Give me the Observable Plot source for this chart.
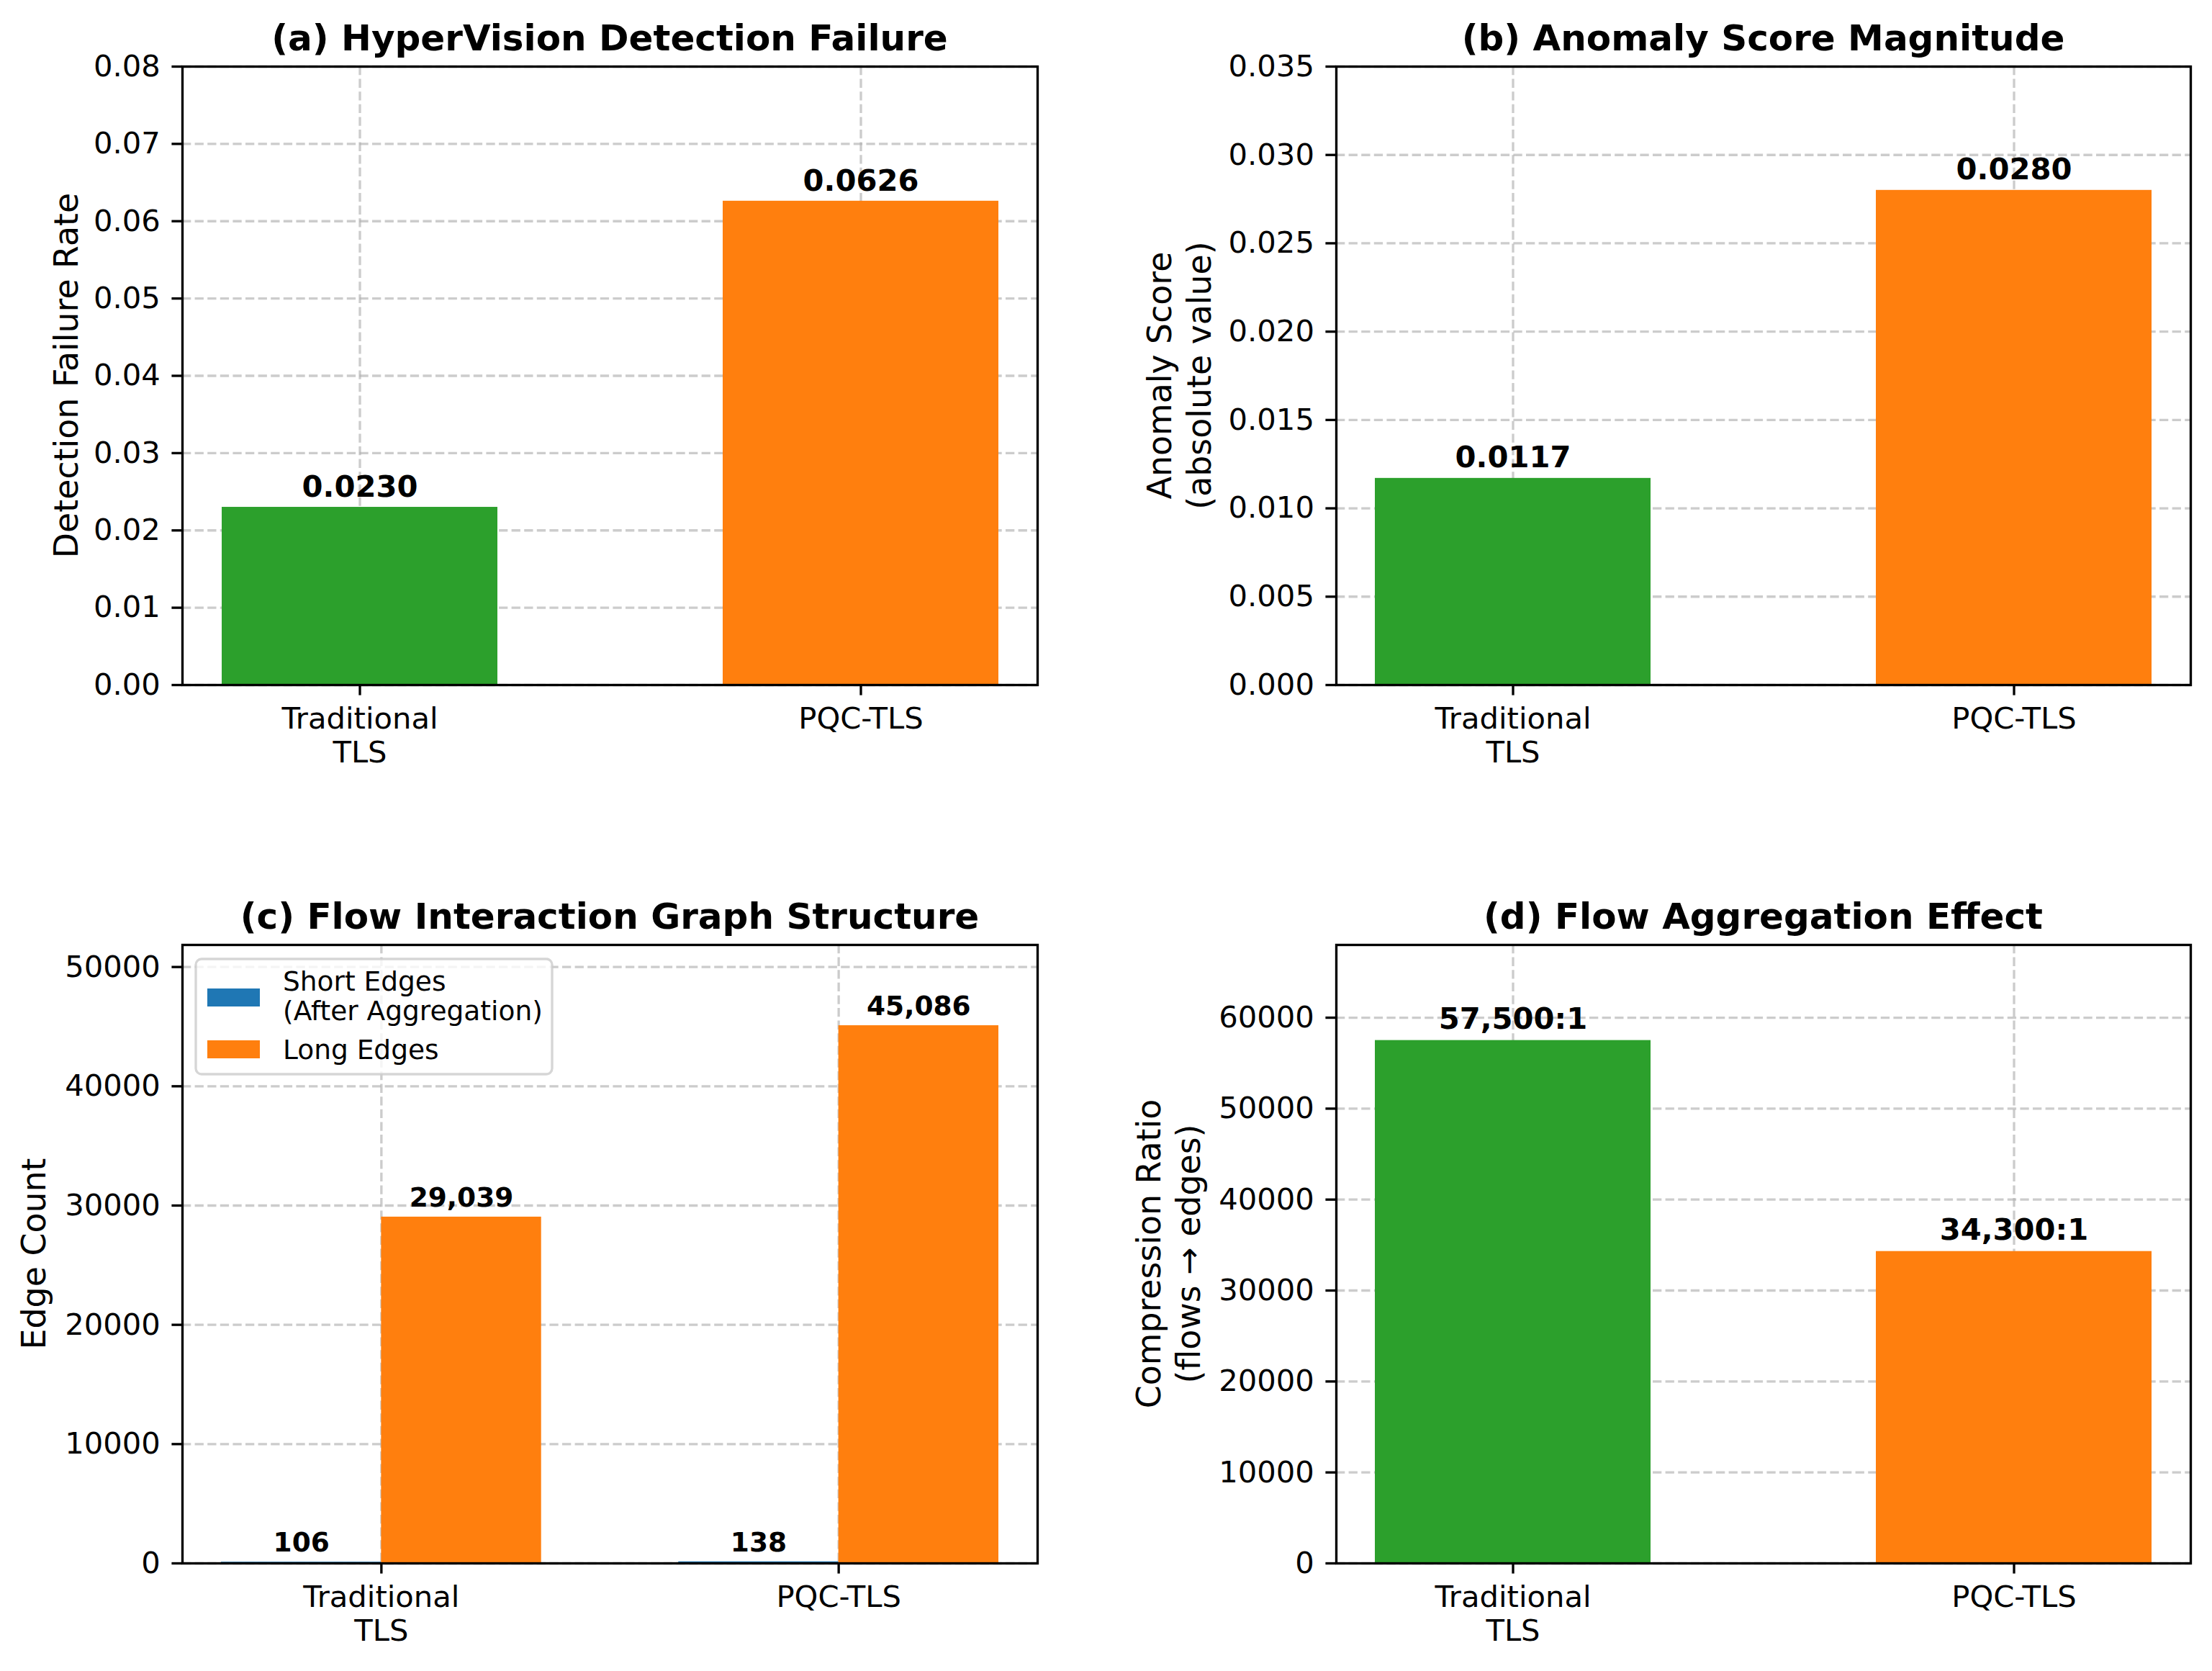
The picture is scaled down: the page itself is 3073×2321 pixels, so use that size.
<!DOCTYPE html>
<html>
<head>
<meta charset="utf-8">
<script src="https://cdn.jsdelivr.net/npm/d3@7"></script>
<script src="https://cdn.jsdelivr.net/npm/@observablehq/plot@0.6"></script>
<style>
  body { margin: 0; background: #fff; }
  #page { position: relative; width: 3073px; height: 2321px; background: #fff; overflow: hidden; font-family: "DejaVu Sans"; }
  .panel { position: absolute; }
  #overlay { position: absolute; left: 0; top: 0; pointer-events: none; }
</style>
</head>
<body>
<div id="page"></div>
<script>
// ---------------- data ----------------
const categories = ["Traditional\nTLS", "PQC-TLS"];
const barColors = ["#2ca02c", "#ff7f0e"];

const failureRate = [0.0230, 0.0626];
const anomalyScore = [0.0117, 0.0280];
const compressionRatio = [57500, 34300];

const edgeSeries = ["Short Edges\n(After Aggregation)", "Long Edges"];
const edgeColors = ["#1f77b4", "#ff7f0e"];
const shortEdges = [106, 138];
const longEdges = [29039, 45086];

const ticksA = [0, 0.01, 0.02, 0.03, 0.04, 0.05, 0.06, 0.07, 0.08];
const ticksB = [0, 0.005, 0.010, 0.015, 0.020, 0.025, 0.030, 0.035];
const ticksC = [0, 10000, 20000, 30000, 40000, 50000];
const ticksD = [0, 10000, 20000, 30000, 40000, 50000, 60000];

const titles = [
  "(a) HyperVision Detection Failure",
  "(b) Anomaly Score Magnitude",
  "(c) Flow Interaction Graph Structure",
  "(d) Flow Aggregation Effect"
];
const yLabels = [
  ["Detection Failure Rate"],
  ["Anomaly Score", "(absolute value)"],
  ["Edge Count"],
  ["Compression Ratio", "(flows \u2192 edges)"]
];

// ---------------- styling ----------------
const FONT = "DejaVu Sans";
const TICK_FS = 41.7, LABEL_FS = 45.8, TITLE_FS = 50, VALUE_FS = 41.7, VALUE_FS_C = 37.5, LEGEND_FS = 37.5;
const LW = 3.33, TICK_LEN = 14.6;
const gridStyle = { stroke: "#b0b0b0", strokeOpacity: 0.65, strokeWidth: LW, strokeDasharray: "12.3,5.3" };

const geo = [
  { left: 0,    top: 0,    width: 1500, height: 1100, mL: 253, mR: 59, mT: 92,  mB: 149 },
  { left: 1500, top: 0,    width: 1573, height: 1100, mL: 356, mR: 30, mT: 92,  mB: 149 },
  { left: 0,    top: 1150, width: 1500, height: 1171, mL: 253, mR: 59, mT: 162, mB: 150 },
  { left: 1500, top: 1150, width: 1573, height: 1171, mL: 356, mR: 30, mT: 162, mB: 150 }
];

const page = document.getElementById("page");

function place(node, g) {
  const div = document.createElement("div");
  div.className = "panel";
  div.style.left = g.left + "px";
  div.style.top = g.top + "px";
  div.appendChild(node);
  page.appendChild(div);
}

function baseOpts(g) {
  return {
    width: g.width, height: g.height,
    marginLeft: g.mL, marginRight: g.mR, marginTop: g.mT, marginBottom: g.mB,
    style: { fontFamily: FONT, fontSize: TICK_FS + "px", background: "transparent", color: "black", overflow: "visible" }
  };
}

function axes(yTicks, yFmt, xOpts = {}) {
  return [
    Plot.axisY(yTicks, { tickFormat: yFmt, tickSize: TICK_LEN, tickPadding: 16, fontSize: TICK_FS, strokeWidth: LW, label: null }),
    Plot.axisX({ tickSize: TICK_LEN, tickPadding: 13, fontSize: TICK_FS, strokeWidth: LW, lineHeight: 1.12, label: null, ...xOpts }),
    Plot.frame({ stroke: "black", strokeWidth: LW })
  ];
}

function barPanel(values, yDomain, yTicks, yFmt, labelFmt, labelDy, g) {
  const data = categories.map((c, i) => ({ cat: c, value: values[i], color: barColors[i] }));
  return Plot.plot({
    ...baseOpts(g),
    x: { type: "band", domain: categories, paddingInner: 0.45, paddingOuter: 0.0775, align: 0.5 },
    y: { domain: yDomain },
    color: { type: "identity" },
    marks: [
      Plot.gridX(gridStyle),
      Plot.gridY(yTicks, gridStyle),
      Plot.barY(data, { x: "cat", y: "value", fill: "color" }),
      Plot.text(data, { x: "cat", y: "value", text: d => labelFmt(d.value), lineAnchor: "bottom", dy: -labelDy,
                        fontWeight: "bold", fontSize: VALUE_FS, fill: "black" }),
      ...axes(yTicks, yFmt)
    ]
  });
}

// (a)
place(barPanel(failureRate, [0, 0.08], ticksA, d3.format(".2f"), d3.format(".4f"), 14.5, geo[0]), geo[0]);
// (b)
place(barPanel(anomalyScore, [0, 0.035], ticksB, d3.format(".3f"), d3.format(".4f"), 15.5, geo[1]), geo[1]);
// (d)
place(barPanel(compressionRatio, [0, 68000], ticksD, d3.format("d"), v => d3.format(",")(v) + ":1", 16.5, geo[3]), geo[3]);

// (c) grouped bars on a linear x scale (bar width 0.35, groups at 0 and 1)
{
  const g = geo[2];
  const barW = 0.35;
  const dataC = [];
  categories.forEach((c, i) => {
    dataC.push({ i, off: -barW / 2, value: shortEdges[i], color: edgeColors[0] });
    dataC.push({ i, off: barW / 2, value: longEdges[i], color: edgeColors[1] });
  });
  const idx = categories.map((c, i) => i);
  const chart = Plot.plot({
    ...baseOpts(g),
    x: { type: "linear", domain: [-0.435, 1.435] },
    y: { domain: [0, 51850] },
    color: { type: "identity" },
    marks: [
      Plot.gridX(idx, gridStyle),
      Plot.gridY(ticksC, gridStyle),
      Plot.rectY(dataC, { x1: d => d.i + d.off - barW / 2, x2: d => d.i + d.off + barW / 2, y1: 0, y2: "value", fill: "color" }),
      Plot.text(dataC, { x: d => d.i + d.off, y: "value", text: d => d3.format(",")(d.value), lineAnchor: "bottom", dy: -14.5,
                         fontWeight: "bold", fontSize: VALUE_FS_C, fill: "black" }),
      Plot.axisY(ticksC, { tickFormat: d3.format("d"), tickSize: TICK_LEN, tickPadding: 16, fontSize: TICK_FS, strokeWidth: LW, label: null }),
      Plot.axisX(idx, { tickFormat: i => categories[i], tickSize: TICK_LEN, tickPadding: 13, fontSize: TICK_FS, strokeWidth: LW, lineHeight: 1.12, label: null }),
      Plot.frame({ stroke: "black", strokeWidth: LW })
    ]
  });
  place(chart, g);
}

// ---------------- overlay: titles, y labels, legend ----------------
const svg = d3.select(page).append("svg")
  .attr("id", "overlay").attr("width", 3073).attr("height", 2321)
  .style("font-family", FONT);

const frames = geo.map(g => ({ x0: g.left + g.mL, x1: g.left + g.width - g.mR, y0: g.top + g.mT, y1: g.top + g.height - g.mB }));
const titleBaselines = [70, 70, 1290, 1290];
titles.forEach((t, i) => {
  svg.append("text")
    .attr("x", (frames[i].x0 + frames[i].x1) / 2).attr("y", titleBaselines[i])
    .attr("text-anchor", "middle").attr("font-weight", "bold").attr("font-size", TITLE_FS)
    .text(t);
});

// baselines (x) of the rotated y-label lines
const yLabelBaselines = [[108], [1627, 1682], [63], [1612, 1667]];
yLabels.forEach((lines, i) => {
  const cy = (frames[i].y0 + frames[i].y1) / 2;
  lines.forEach((line, j) => {
    svg.append("text")
      .attr("transform", `translate(${yLabelBaselines[i][j]},${cy}) rotate(-90)`)
      .attr("text-anchor", "middle").attr("font-size", LABEL_FS)
      .text(line);
  });
});

// legend for (c)
{
  const lg = svg.append("g");
  lg.append("rect").attr("x", 272).attr("y", 1332).attr("width", 495).attr("height", 160)
    .attr("rx", 8).attr("fill", "white").attr("fill-opacity", 0.8)
    .attr("stroke", "#cccccc").attr("stroke-opacity", 0.8).attr("stroke-width", LW);
  const patchY = [1373, 1445];
  const textBaselines = [[1376, 1417], [1471]];
  edgeSeries.forEach((name, i) => {
    lg.append("rect").attr("x", 288).attr("y", patchY[i]).attr("width", 73).attr("height", 25).attr("fill", edgeColors[i]);
    name.split("\n").forEach((ln, j) => {
      lg.append("text").attr("x", 393).attr("y", textBaselines[i][j]).attr("font-size", LEGEND_FS).text(ln);
    });
  });
}
</script>
</body>
</html>
